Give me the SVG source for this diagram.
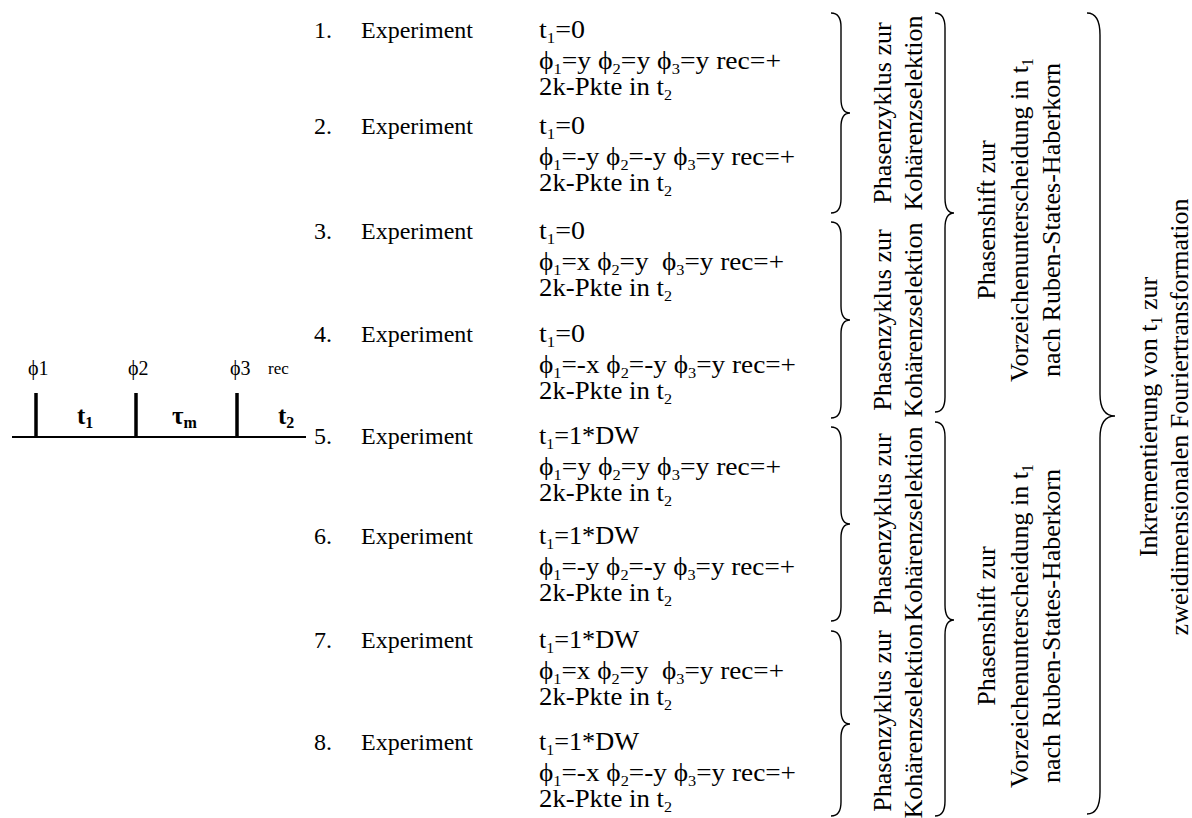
<svg xmlns="http://www.w3.org/2000/svg" width="1192" height="818" viewBox="0 0 1192 818">
<style>
text{font-family:"Liberation Serif","Times New Roman",serif;fill:#000}
.t{font-size:24px}
.v{font-size:25px}
.s{font-size:15px}
.r{font-size:26px;text-anchor:middle}
.rs{font-size:16px}
.lab{font-size:20px}
.rec{font-size:17px}
.b{font-size:25px;font-weight:bold}
.bs{font-size:16px;font-weight:bold}
.brace{fill:none;stroke:#000;stroke-width:1.4}
</style>
<rect width="1192" height="818" fill="#fff"/>
<g id="pulse-sequence">
<line x1="12" y1="437" x2="306" y2="437" stroke="#000" stroke-width="2"/>
<line x1="36" y1="393" x2="36" y2="437" stroke="#000" stroke-width="3.5"/>
<line x1="136" y1="393" x2="136" y2="437" stroke="#000" stroke-width="3.5"/>
<line x1="237" y1="393" x2="237" y2="437" stroke="#000" stroke-width="3.5"/>
<text class="lab" x="28" y="375">ϕ1</text>
<text class="lab" x="128" y="375">ϕ2</text>
<text class="lab" x="230" y="375">ϕ3</text>
<text class="rec" x="268" y="374">rec</text>
<text class="b" x="77" y="424">t<tspan class="bs" dy="4">1</tspan></text>
<text class="b" x="172" y="424">τ<tspan class="bs" dy="4">m</tspan></text>
<text class="b" x="278" y="424">t<tspan class="bs" dy="4">2</tspan></text>
</g>
<g id="exp1">
<text class="t" x="314" y="38">1.</text><text class="t" x="361" y="38">Experiment</text>
<text class="v" x="539" y="38" textLength="46" lengthAdjust="spacingAndGlyphs">t<tspan class="s" dy="5">1</tspan><tspan dy="-5">=0</tspan></text>
<text class="v" x="539" y="69" textLength="242" lengthAdjust="spacingAndGlyphs">ϕ<tspan class="s" dy="5">1</tspan><tspan dy="-5">=y ϕ</tspan><tspan class="s" dy="5">2</tspan><tspan dy="-5">=y ϕ</tspan><tspan class="s" dy="5">3</tspan><tspan dy="-5">=y rec=+</tspan></text>
<text class="v" x="539" y="95" textLength="133" lengthAdjust="spacingAndGlyphs">2k-Pkte in t<tspan class="s" dy="5">2</tspan></text>
</g>
<g id="exp2">
<text class="t" x="314" y="134">2.</text><text class="t" x="361" y="134">Experiment</text>
<text class="v" x="539" y="134" textLength="46" lengthAdjust="spacingAndGlyphs">t<tspan class="s" dy="5">1</tspan><tspan dy="-5">=0</tspan></text>
<text class="v" x="539" y="165" textLength="256" lengthAdjust="spacingAndGlyphs">ϕ<tspan class="s" dy="5">1</tspan><tspan dy="-5">=-y ϕ</tspan><tspan class="s" dy="5">2</tspan><tspan dy="-5">=-y ϕ</tspan><tspan class="s" dy="5">3</tspan><tspan dy="-5">=y rec=+</tspan></text>
<text class="v" x="539" y="191" textLength="133" lengthAdjust="spacingAndGlyphs">2k-Pkte in t<tspan class="s" dy="5">2</tspan></text>
</g>
<g id="exp3">
<text class="t" x="314" y="239">3.</text><text class="t" x="361" y="239">Experiment</text>
<text class="v" x="539" y="239" textLength="46" lengthAdjust="spacingAndGlyphs">t<tspan class="s" dy="5">1</tspan><tspan dy="-5">=0</tspan></text>
<text class="v" x="539" y="270" textLength="245" lengthAdjust="spacingAndGlyphs">ϕ<tspan class="s" dy="5">1</tspan><tspan dy="-5">=x ϕ</tspan><tspan class="s" dy="5">2</tspan><tspan dy="-5">=y &#160;ϕ</tspan><tspan class="s" dy="5">3</tspan><tspan dy="-5">=y rec=+</tspan></text>
<text class="v" x="539" y="296" textLength="133" lengthAdjust="spacingAndGlyphs">2k-Pkte in t<tspan class="s" dy="5">2</tspan></text>
</g>
<g id="exp4">
<text class="t" x="314" y="342">4.</text><text class="t" x="361" y="342">Experiment</text>
<text class="v" x="539" y="342" textLength="46" lengthAdjust="spacingAndGlyphs">t<tspan class="s" dy="5">1</tspan><tspan dy="-5">=0</tspan></text>
<text class="v" x="539" y="373" textLength="257" lengthAdjust="spacingAndGlyphs">ϕ<tspan class="s" dy="5">1</tspan><tspan dy="-5">=-x ϕ</tspan><tspan class="s" dy="5">2</tspan><tspan dy="-5">=-y ϕ</tspan><tspan class="s" dy="5">3</tspan><tspan dy="-5">=y rec=+</tspan></text>
<text class="v" x="539" y="399" textLength="133" lengthAdjust="spacingAndGlyphs">2k-Pkte in t<tspan class="s" dy="5">2</tspan></text>
</g>
<g id="exp5">
<text class="t" x="314" y="444">5.</text><text class="t" x="361" y="444">Experiment</text>
<text class="v" x="539" y="444" textLength="100" lengthAdjust="spacingAndGlyphs">t<tspan class="s" dy="5">1</tspan><tspan dy="-5">=1*DW</tspan></text>
<text class="v" x="539" y="475" textLength="242" lengthAdjust="spacingAndGlyphs">ϕ<tspan class="s" dy="5">1</tspan><tspan dy="-5">=y ϕ</tspan><tspan class="s" dy="5">2</tspan><tspan dy="-5">=y ϕ</tspan><tspan class="s" dy="5">3</tspan><tspan dy="-5">=y rec=+</tspan></text>
<text class="v" x="539" y="501" textLength="133" lengthAdjust="spacingAndGlyphs">2k-Pkte in t<tspan class="s" dy="5">2</tspan></text>
</g>
<g id="exp6">
<text class="t" x="314" y="544">6.</text><text class="t" x="361" y="544">Experiment</text>
<text class="v" x="539" y="544" textLength="100" lengthAdjust="spacingAndGlyphs">t<tspan class="s" dy="5">1</tspan><tspan dy="-5">=1*DW</tspan></text>
<text class="v" x="539" y="575" textLength="256" lengthAdjust="spacingAndGlyphs">ϕ<tspan class="s" dy="5">1</tspan><tspan dy="-5">=-y ϕ</tspan><tspan class="s" dy="5">2</tspan><tspan dy="-5">=-y ϕ</tspan><tspan class="s" dy="5">3</tspan><tspan dy="-5">=y rec=+</tspan></text>
<text class="v" x="539" y="601" textLength="133" lengthAdjust="spacingAndGlyphs">2k-Pkte in t<tspan class="s" dy="5">2</tspan></text>
</g>
<g id="exp7">
<text class="t" x="314" y="648">7.</text><text class="t" x="361" y="648">Experiment</text>
<text class="v" x="539" y="648" textLength="100" lengthAdjust="spacingAndGlyphs">t<tspan class="s" dy="5">1</tspan><tspan dy="-5">=1*DW</tspan></text>
<text class="v" x="539" y="679" textLength="245" lengthAdjust="spacingAndGlyphs">ϕ<tspan class="s" dy="5">1</tspan><tspan dy="-5">=x ϕ</tspan><tspan class="s" dy="5">2</tspan><tspan dy="-5">=y &#160;ϕ</tspan><tspan class="s" dy="5">3</tspan><tspan dy="-5">=y rec=+</tspan></text>
<text class="v" x="539" y="705" textLength="133" lengthAdjust="spacingAndGlyphs">2k-Pkte in t<tspan class="s" dy="5">2</tspan></text>
</g>
<g id="exp8">
<text class="t" x="314" y="750">8.</text><text class="t" x="361" y="750">Experiment</text>
<text class="v" x="539" y="750" textLength="100" lengthAdjust="spacingAndGlyphs">t<tspan class="s" dy="5">1</tspan><tspan dy="-5">=1*DW</tspan></text>
<text class="v" x="539" y="781" textLength="257" lengthAdjust="spacingAndGlyphs">ϕ<tspan class="s" dy="5">1</tspan><tspan dy="-5">=-x ϕ</tspan><tspan class="s" dy="5">2</tspan><tspan dy="-5">=-y ϕ</tspan><tspan class="s" dy="5">3</tspan><tspan dy="-5">=y rec=+</tspan></text>
<text class="v" x="539" y="807" textLength="133" lengthAdjust="spacingAndGlyphs">2k-Pkte in t<tspan class="s" dy="5">2</tspan></text>
</g>
<g id="connectors">
<path class="brace" d="M831,13 Q841,13 841,27 V99 Q841,113 850,113 Q841,113 841,127 V199 Q841,213 831,213"/>
<path class="brace" d="M831,222 Q841,222 841,236 V306 Q841,320 850,320 Q841,320 841,334 V404 Q841,418 831,418"/>
<path class="brace" d="M831,427 Q841,427 841,441 V510 Q841,524 850,524 Q841,524 841,538 V607 Q841,621 831,621"/>
<path class="brace" d="M831,631 Q841,631 841,645 V710 Q841,724 850,724 Q841,724 841,738 V802 Q841,816 831,816"/>
<path class="brace" d="M935,13 Q945,13 945,28 V198 Q945,213 954,213 Q945,213 945,228 V397 Q945,412 935,412"/>
<path class="brace" d="M935,422 Q945,422 945,437 V605 Q945,620 954,620 Q945,620 945,635 V801 Q945,816 935,816"/>
<path class="brace" d="M1087,13 Q1100,13 1100,35 V394 Q1100,416 1115,416 Q1100,416 1100,438 V792 Q1100,814 1087,814"/>
</g>
<g id="cycle1">
<text class="r" transform="translate(891,113) rotate(-90)">Phasenzyklus zur</text>
<text class="r" transform="translate(922,113) rotate(-90)">Kohärenzselektion</text>
</g>
<g id="cycle2">
<text class="r" transform="translate(891,320) rotate(-90)">Phasenzyklus zur</text>
<text class="r" transform="translate(922,320) rotate(-90)">Kohärenzselektion</text>
</g>
<g id="cycle3">
<text class="r" transform="translate(891,524) rotate(-90)">Phasenzyklus zur</text>
<text class="r" transform="translate(922,524) rotate(-90)">Kohärenzselektion</text>
</g>
<g id="cycle4">
<text class="r" transform="translate(891,721) rotate(-90)">Phasenzyklus zur</text>
<text class="r" transform="translate(922,721) rotate(-90)">Kohärenzselektion</text>
</g>
<g id="shift1">
<text class="r" transform="translate(995,220) rotate(-90)">Phasenshift zur</text>
<text class="r" transform="translate(1028,220) rotate(-90)">Vorzeichenunterscheidung in t<tspan class="rs" dy="5">1</tspan></text>
<text class="r" transform="translate(1060,220) rotate(-90)">nach Ruben-States-Haberkorn</text>
</g>
<g id="shift2">
<text class="r" transform="translate(995,626) rotate(-90)">Phasenshift zur</text>
<text class="r" transform="translate(1028,626) rotate(-90)">Vorzeichenunterscheidung in t<tspan class="rs" dy="5">1</tspan></text>
<text class="r" transform="translate(1060,626) rotate(-90)">nach Ruben-States-Haberkorn</text>
</g>
<g id="increment">
<text class="r" transform="translate(1157,417) rotate(-90)">Inkrementierung von t<tspan class="rs" dy="5">1</tspan><tspan dy="-5"> zur</tspan></text>
<text class="r" transform="translate(1188,417) rotate(-90)">zweidimensionalen Fouriertransformation</text>
</g>
</svg>
